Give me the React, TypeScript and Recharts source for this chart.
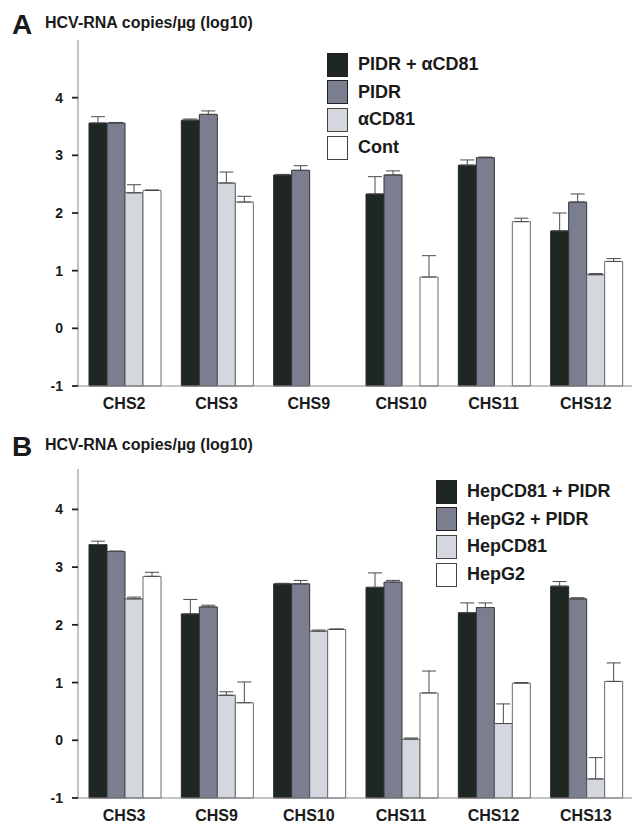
import { Bar, BarChart, ErrorBar, Legend, XAxis, YAxis } from 'recharts'

const categoriesA = ['CHS2', 'CHS3', 'CHS9', 'CHS10', 'CHS11', 'CHS12']
const pidrCd81A = [3.56, 3.61, 2.66, 2.33, 2.83, 1.69]
const pidrCd81SdA = [0.11, 0.02, 0.01, 0.3, 0.09, 0.31]
const pidrA = [3.56, 3.71, 2.74, 2.66, 2.96, 2.19]
const pidrSdA = [0.01, 0.06, 0.08, 0.07, 0.01, 0.14]
const cd81A = [2.35, 2.52, null, null, null, 0.93]
const cd81SdA = [0.14, 0.19, null, null, null, 0.02]
const contA = [2.39, 2.19, null, 0.89, 1.85, 1.16]
const contSdA = [0.01, 0.1, null, 0.37, 0.06, 0.05]
const namesA = ['PIDR + \u03b1CD81', 'PIDR', '\u03b1CD81', 'Cont']

const categoriesB = ['CHS3', 'CHS9', 'CHS10', 'CHS11', 'CHS12', 'CHS13']
const hepCd81PidrB = [3.39, 2.19, 2.71, 2.65, 2.21, 2.67]
const hepCd81PidrSdB = [0.06, 0.25, 0.01, 0.25, 0.17, 0.08]
const hepG2PidrB = [3.27, 2.31, 2.71, 2.74, 2.3, 2.45]
const hepG2PidrSdB = [0.01, 0.03, 0.06, 0.03, 0.08, 0.02]
const hepCd81B = [2.45, 0.78, 1.89, 0.02, 0.29, -0.67]
const hepCd81SdB = [0.03, 0.06, 0.02, 0.02, 0.34, 0.37]
const hepG2B = [2.84, 0.65, 1.92, 0.82, 0.99, 1.02]
const hepG2SdB = [0.07, 0.36, 0.01, 0.38, 0.01, 0.32]
const namesB = ['HepCD81 + PIDR', 'HepG2 + PIDR', 'HepCD81', 'HepG2']

const yTicks = [-1, 0, 1, 2, 3, 4]

const FONT = '"Liberation Sans", Arial, Helvetica, sans-serif'
const FILLS = ['#1e2722', '#7b7e8f', '#d4d7de', '#ffffff']
const STROKES = ['#2a2a2a', '#33343c', '#55575e', '#6a6a6a']

type Row = Record<string, string | number | null | number[]>

function buildRows(
  cats: string[],
  values: (number | null)[][],
  sds: (number | null)[][],
): Row[] {
  return cats.map((name, i) => {
    const row: Row = { name }
    values.forEach((vals, s) => {
      const v = vals[i]
      const sd = sds[s][i]
      row[`s${s}`] = v == null ? null : v + 1
      row[`e${s}`] = v == null || sd == null ? null : [0, sd]
    })
    return row
  })
}

const rowsA = buildRows(
  categoriesA,
  [pidrCd81A, pidrA, cd81A, contA],
  [pidrCd81SdA, pidrSdA, cd81SdA, contSdA],
)
const rowsB = buildRows(
  categoriesB,
  [hepCd81PidrB, hepG2PidrB, hepCd81B, hepG2B],
  [hepCd81PidrSdB, hepG2PidrSdB, hepCd81SdB, hepG2SdB],
)

// legend keeps series order (recharts would sort the payload by name)
function LegendBox({ names }: { names: string[] }) {
  return (
    <div style={{ fontFamily: FONT }}>
      {names.map((n, i) => (
        <div key={n} style={{ display: 'flex', alignItems: 'center', height: 27.6 }}>
          <div
            style={{
              width: 21,
              height: 24,
              boxSizing: 'border-box',
              border: `1.5px solid ${i < 2 ? '#222' : '#444'}`,
              background: FILLS[i],
            }}
          />
          <span
            style={{
              marginLeft: 10,
              fontSize: 18,
              fontWeight: 700,
              color: '#1a1a1a',
              whiteSpace: 'nowrap',
            }}
          >
            {n}
          </span>
        </div>
      ))}
    </div>
  )
}

function Panel({
  rows,
  names,
  height,
  top,
  yMax,
  legendPos,
}: {
  rows: Row[]
  names: string[]
  height: number
  top: number
  yMax: number
  legendPos: { top: number; left: number }
}) {
  return (
    <BarChart
      width={640}
      height={height}
      data={rows}
      margin={{ top, right: 8, bottom: height === 420 ? 4 : 1, left: 0 }}
      barCategoryGap={11}
      barGap={0}
    >
      <XAxis
        dataKey="name"
        axisLine={{ stroke: '#8a8a8a' }}
        tickLine={false}
        tickSize={0}
        tickMargin={12}
        height={30}
        interval={0}
        tick={{ fill: '#1a1a1a', fontSize: 16, fontWeight: 700, fontFamily: FONT }}
      />
      <XAxis
        xAxisId="top"
        dataKey="name"
        orientation="top"
        height={0}
        tick={false}
        tickLine={false}
        axisLine={{ stroke: '#b5b5b5' }}
      />
      <YAxis
        type="number"
        domain={[0, yMax + 1]}
        ticks={yTicks.map((t) => t + 1)}
        tickFormatter={(v: number) => `${v - 1}`}
        width={78}
        tickSize={6}
        tickMargin={9}
        axisLine={{ stroke: '#8a8a8a' }}
        tickLine={{ stroke: '#222', strokeWidth: 1.8 }}
        tick={{ fill: '#1a1a1a', fontSize: 14, fontWeight: 700, fontFamily: FONT }}
      />
      <YAxis
        yAxisId="right"
        orientation="right"
        width={0}
        tick={false}
        tickLine={false}
        axisLine={{ stroke: '#b5b5b5' }}
      />
      <Legend
        layout="vertical"
        align="center"
        verticalAlign="middle"
        content={() => <LegendBox names={names} />}
        wrapperStyle={{ top: legendPos.top, left: legendPos.left, width: 'auto' }}
      />
      {names.map((n, s) => (
        <Bar
          key={n}
          dataKey={`s${s}`}
          name={n}
          fill={FILLS[s]}
          stroke={STROKES[s]}
          strokeWidth={1}
          isAnimationActive={false}
        >
          <ErrorBar
            dataKey={`e${s}`}
            width={7}
            stroke="#4a4a4a"
            strokeWidth={1}
            direction="y"
            isAnimationActive={false}
          />
        </Bar>
      ))}
    </BarChart>
  )
}

function Heading({ letter, top }: { letter: string; top: number }) {
  return (
    <>
      <div
        style={{
          position: 'absolute',
          left: 12,
          top: top - 4,
          fontSize: 28,
          fontWeight: 700,
          lineHeight: 1,
          fontFamily: FONT,
          color: '#1a1a1a',
        }}
      >
        {letter}
      </div>
      <div
        style={{
          position: 'absolute',
          left: 45,
          top,
          fontSize: 16,
          fontWeight: 700,
          lineHeight: 1,
          fontFamily: FONT,
          color: '#1a1a1a',
          whiteSpace: 'nowrap',
        }}
      >
        HCV-RNA copies/{'\u00b5'}g (log10)
      </div>
    </>
  )
}

export default function App() {
  return (
    <div
      style={{
        position: 'absolute',
        left: 0,
        top: 0,
        width: 640,
        height: 829,
        background: '#fff',
        overflow: 'hidden',
      }}
    >
      <div style={{ position: 'absolute', left: 0, top: 0 }}>
        <Panel
          rows={rowsA}
          names={namesA}
          height={420}
          top={40}
          yMax={5}
          legendPos={{ top: 51, left: 327 }}
        />
      </div>
      <div style={{ position: 'absolute', left: 0, top: 420 }}>
        <Panel
          rows={rowsB}
          names={namesB}
          height={409}
          top={49}
          yMax={4.7}
          legendPos={{ top: 58, left: 436 }}
        />
      </div>
      <Heading letter="A" top={15} />
      <Heading letter="B" top={437} />
    </div>
  )
}
